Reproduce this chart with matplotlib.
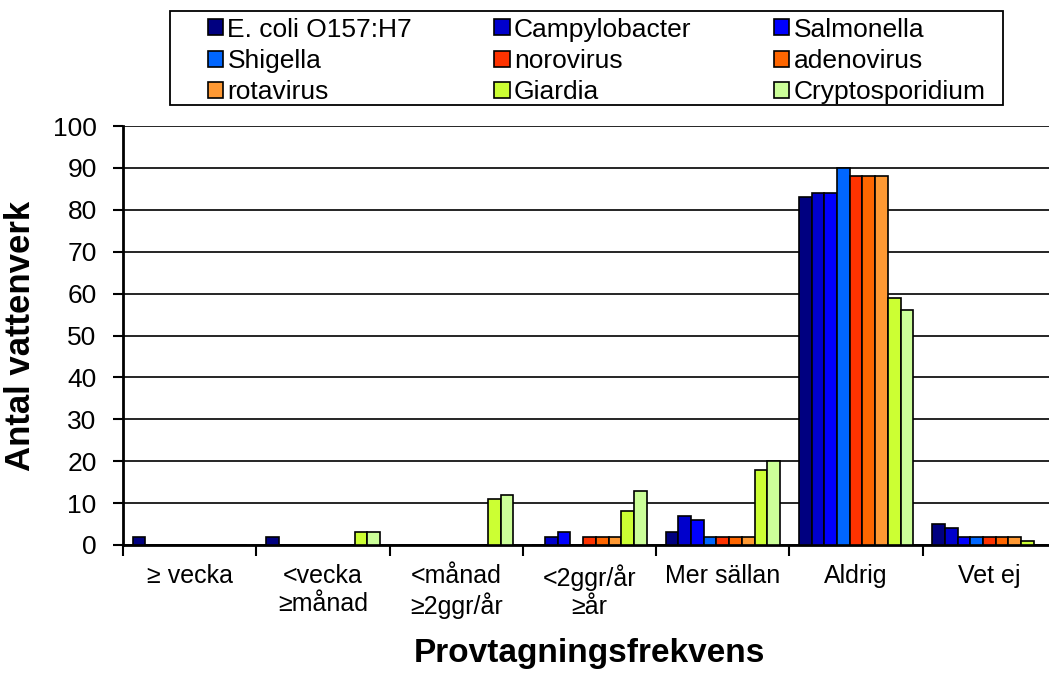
import matplotlib.pyplot as plt
from matplotlib.patches import Rectangle
import numpy as np

categories = ["\u2265 vecka", "<vecka\n\u2265m\u00e5nad", "<m\u00e5nad\n\u22652ggr/\u00e5r",
              "<2ggr/\u00e5r\n\u2265\u00e5r", "Mer s\u00e4llan", "Aldrig", "Vet ej"]

series = ["E. coli O157:H7", "Campylobacter", "Salmonella", "Shigella", "norovirus",
          "adenovirus", "rotavirus", "Giardia", "Cryptosporidium"]

ecoli = [2, 2, 0, 0, 3, 83, 5]
campylobacter = [0, 0, 0, 2, 7, 84, 4]
salmonella = [0, 0, 0, 3, 6, 84, 2]
shigella = [0, 0, 0, 0, 2, 90, 2]
norovirus = [0, 0, 0, 2, 2, 88, 2]
adenovirus = [0, 0, 0, 2, 2, 88, 2]
rotavirus = [0, 0, 0, 2, 2, 88, 2]
giardia = [0, 3, 11, 8, 18, 59, 1]
cryptosporidium = [0, 3, 12, 13, 20, 56, 0]

values = [ecoli, campylobacter, salmonella, shigella, norovirus,
          adenovirus, rotavirus, giardia, cryptosporidium]
colors = ["#000080", "#0000CC", "#0000FF", "#0066FF", "#FF3300",
          "#FF6600", "#FF9933", "#CCFF33", "#CCFF99"]

plt.rcParams["font.family"] = ["Liberation Sans", "DejaVu Sans"]

W, H = 1049, 675
fig = plt.figure(figsize=(W / 100, H / 100), dpi=100)
ax = fig.add_axes([0.1173, 0.1926, 0.8894, 0.6207])

n = len(series)
width = 1 / (n + 1.5)
x = np.arange(len(categories))
handles = []
for i, (name, vals, col) in enumerate(zip(series, values, colors)):
    offs = (i - (n - 1) / 2) * width
    b = ax.bar(x + offs, vals, width, color=col, edgecolor="black",
               linewidth=1.2, label=name, zorder=3)
    handles.append(b)

ax.set_ylim(0, 100)
ax.set_xlim(-0.5, len(categories) - 0.5)
ax.set_yticks(range(0, 101, 10))
ax.yaxis.grid(True, color="black", linewidth=1.2, zorder=0)
ax.set_axisbelow(True)

# category labels between tick marks
ax.set_xticks(np.arange(-0.5, len(categories), 1))
ax.set_xticklabels([])
ax.set_xticks(x, minor=True)
ax.set_xticklabels(categories, minor=True, fontsize=18)
ax.tick_params(axis="x", which="minor", length=0, pad=14)
ax.tick_params(axis="x", which="major", direction="out", length=8, width=1.5)
ax.tick_params(axis="y", direction="out", length=7, width=1.5, pad=12, labelsize=19)

for s in ["top", "right"]:
    ax.spines[s].set_visible(False)
ax.spines["left"].set_linewidth(2)
ax.spines["bottom"].set_linewidth(2)

ax.set_ylabel("Antal vattenverk", fontsize=25, fontweight="bold")
ax.yaxis.set_label_coords(-0.092, 0.5)
ax.set_xlabel("Provtagningsfrekvens", fontsize=24, fontweight="bold")
ax.xaxis.set_label_coords(0.5, -0.222)

# legend is filled row by row in the original
order = [0, 3, 6, 1, 4, 7, 2, 5, 8]
leg = fig.legend([handles[k] for k in order], [series[k] for k in order],
                 ncol=3, loc="upper left", mode="expand",
                 bbox_to_anchor=(197 / W, 1 - 100 / H, 799 / W, 93 / H),
                 fontsize=19, handlelength=0.6, handleheight=0.57, handletextpad=0.15,
                 columnspacing=1.0, borderpad=0.4, labelspacing=0.28,
                 frameon=False, borderaxespad=0)
for h in leg.legend_handles:
    h.set_linewidth(1.2)
# legend box
fig.patches.append(Rectangle((170 / W, 1 - 105 / H), 833 / W, 94 / H,
                             transform=fig.transFigure, fill=False,
                             edgecolor="black", linewidth=1.3))

fig.savefig("out.png", dpi=100)
